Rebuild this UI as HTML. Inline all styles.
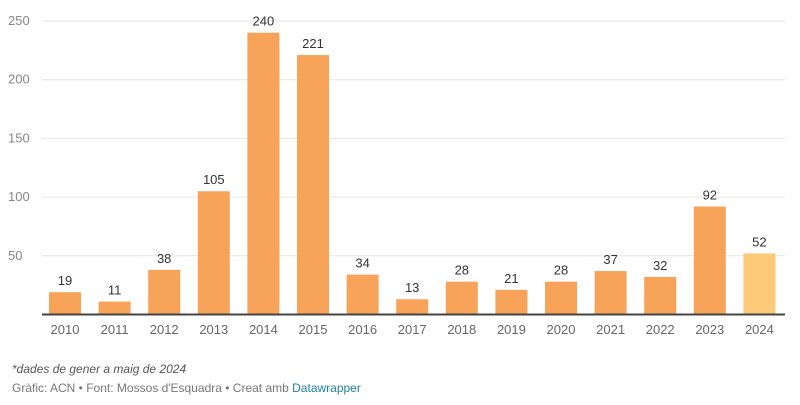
<!DOCTYPE html>
<html><head><meta charset="utf-8"><style>
body{margin:0;background:#fff;font-family:"Liberation Sans",sans-serif;}
svg text{font-family:"Liberation Sans",sans-serif;}
</style></head><body>
<svg width="800" height="400">
<g id="grid"></g><g id="bars"></g><g id="labels"></g>
<line x1="42" x2="785" y1="314.5" y2="314.5" stroke="#444" stroke-width="2"/>
<text x="12" y="373" font-size="12" font-style="italic" fill="#555">*dades de gener a maig de 2024</text>
<text x="12" y="392" font-size="12" fill="#777">Gràfic: ACN • Font: Mossos d'Esquadra • Creat amb <tspan fill="#1d81a2">Datawrapper</tspan></text>
</svg>
<script>
const years=["2010","2011","2012","2013","2014","2015","2016","2017","2018","2019","2020","2021","2022","2023","2024"];
const values=[19,11,38,105,240,221,34,13,28,21,28,37,32,92,52];
const yTicks=[50,100,150,200,250];
const NS="http://www.w3.org/2000/svg";
const y0=314.5,pxPer=58.7/50;
const yS=v=>y0-v*pxPer;
const xS=i=>65+i*49.6;
const g=document.getElementById('grid'),b=document.getElementById('bars'),l=document.getElementById('labels');
function mk(tag,attrs,parent,txt){const e=document.createElementNS(NS,tag);for(const k in attrs)e.setAttribute(k,attrs[k]);if(txt!==undefined)e.textContent=txt;parent.appendChild(e);return e;}
yTicks.forEach(t=>{
 const ln=mk('line',{x1:42,x2:785,y1:yS(t),y2:yS(t),stroke:'#e6e6e6','stroke-width':1},g);
 
 
 const tx=mk('text',{x:8,y:yS(t)+4,'font-size':13,fill:'#888'},g,String(t));
 
 
});
years.forEach((yr,i)=>{
 const v=values[i],cx=xS(i);
 const r=mk('rect',{x:cx-16,y:yS(v),width:32,height:y0-yS(v),fill:i===years.length-1?'#fbc978':'#f8a35a'},b);
 
 
 const vt=mk('text',{x:cx,y:yS(v)-7,'font-size':13,fill:'#333','text-anchor':'middle'},l,String(v));
 
 
 const xt=mk('text',{x:cx,y:334,'font-size':13,fill:'#666','text-anchor':'middle'},l,yr);
 
 
});
</script>
</body></html>
